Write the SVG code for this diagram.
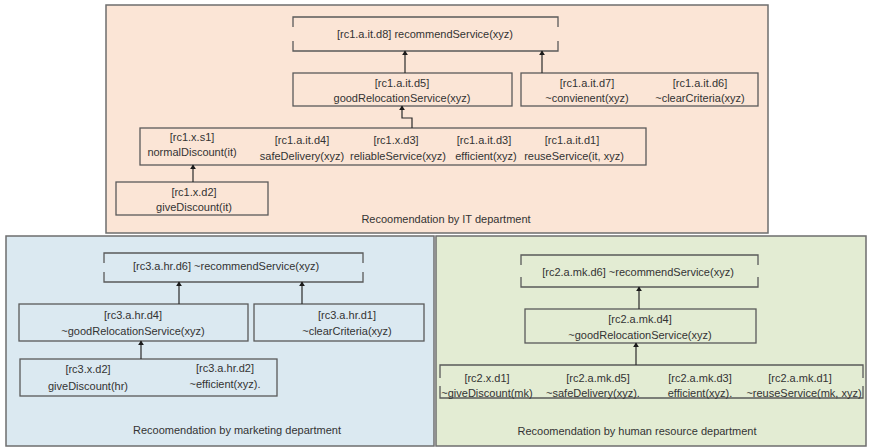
<svg xmlns="http://www.w3.org/2000/svg" width="870" height="447" viewBox="0 0 870 447">
  <defs>
    <marker id="arr" viewBox="0 0 8 10" refX="7" refY="5" markerWidth="5" markerHeight="6" orient="auto-start-reverse" markerUnits="userSpaceOnUse">
      <path d="M0,0 L8,5 L0,10 z" fill="#1a1a1a"/>
    </marker>
  </defs>
  <style>
    .panel { stroke: #6e6e6e; stroke-width: 1.5; }
    .it { fill: #fbe5d6; }
    .mkt { fill: #dbe9f1; }
    .hr { fill: #e3ecd3; }
    .box { fill: none; stroke: #5a5a5a; stroke-width: 1.3; }
    .brk { fill: none; stroke: #5a5a5a; stroke-width: 1.3; }
    .conn { fill: none; stroke: #2a2a2a; stroke-width: 1.2; }
    text { font-family: "Liberation Sans", Arial, sans-serif; font-size: 11px; fill: #333; text-anchor: middle; }
  </style>

  <!-- department panels -->
  <rect id="panel-it" class="panel it" x="106" y="5" width="662" height="228"/>
  <rect id="panel-marketing" class="panel mkt" x="6" y="236" width="428" height="210"/>
  <rect id="panel-hr" class="panel hr" x="436" y="236" width="430" height="210"/>

  <!-- IT department -->
  <g id="it-d8">
    <path class="brk" d="M293,27 V17 H558 V27 M293,41 V51 H558 V41"/>
    <text x="425" y="38">[rc1.a.it.d8] recommendService(xyz)</text>
  </g>
  <g id="it-d5">
    <rect class="box" x="293" y="73" width="219" height="33"/>
    <text x="402" y="87">[rc1.a.it.d5]</text>
    <text x="402" y="102">goodRelocationService(xyz)</text>
  </g>
  <g id="it-d7-d6">
    <rect class="box" x="521" y="73" width="237" height="33"/>
    <text x="587" y="87">[rc1.a.it.d7]</text>
    <text x="587" y="102">~convienent(xyz)</text>
    <text x="700" y="87">[rc1.a.it.d6]</text>
    <text x="700" y="102">~clearCriteria(xyz)</text>
  </g>
  <g id="it-row">
    <rect class="box" x="140" y="128" width="506" height="37"/>
    <text x="192" y="141">[rc1.x.s1]</text>
    <text x="192" y="156">normalDiscount(it)</text>
    <text x="302" y="144">[rc1.a.it.d4]</text>
    <text x="302" y="160">safeDelivery(xyz)</text>
    <text x="396" y="144">[rc1.x.d3]</text>
    <text x="398" y="160">reliableService(xyz)</text>
    <text x="484" y="144">[rc1.a.it.d3]</text>
    <text x="486" y="160">efficient(xyz)</text>
    <text x="572" y="144">[rc1.a.it.d1]</text>
    <text x="574" y="160">reuseService(it, xyz)</text>
  </g>
  <g id="it-d2">
    <rect class="box" x="116" y="182" width="152" height="33"/>
    <text x="194" y="196">[rc1.x.d2]</text>
    <text x="194" y="211">giveDiscount(it)</text>
  </g>
  <text id="it-caption" x="446" y="223">Recoomendation by IT department</text>

  <!-- marketing department -->
  <g id="mkt-d6">
    <path class="brk" d="M104,263 V253 H363 V263 M104,272 V282 H363 V272"/>
    <text x="226" y="270">[rc3.a.hr.d6] ~recommendService(xyz)</text>
  </g>
  <g id="mkt-d4">
    <rect class="box" x="19" y="304" width="229" height="37"/>
    <text x="133" y="319">[rc3.a.hr.d4]</text>
    <text x="133" y="335">~goodRelocationService(xyz)</text>
  </g>
  <g id="mkt-d1">
    <rect class="box" x="254" y="304" width="170" height="37"/>
    <text x="347" y="319">[rc3.a.hr.d1]</text>
    <text x="347" y="335">~clearCriteria(xyz)</text>
  </g>
  <g id="mkt-row">
    <rect class="box" x="20" y="359" width="257" height="37"/>
    <text x="88" y="373">[rc3.x.d2]</text>
    <text x="88" y="390">giveDiscount(hr)</text>
    <text x="225" y="372">[rc3.a.hr.d2]</text>
    <text x="225" y="388">~efficient(xyz).</text>
  </g>
  <text id="mkt-caption" x="237" y="434">Recoomendation by marketing department</text>

  <!-- human resource department -->
  <g id="hr-d6">
    <path class="brk" d="M521,265 V255 H758 V265 M521,277 V287 H758 V277"/>
    <text x="638" y="276">[rc2.a.mk.d6] ~recommendService(xyz)</text>
  </g>
  <g id="hr-d4">
    <rect class="box" x="525" y="309" width="231" height="34"/>
    <text x="640" y="323">[rc2.a.mk.d4]</text>
    <text x="640" y="339">~goodRelocationService(xyz)</text>
  </g>
  <g id="hr-row">
    <path class="brk" d="M440,378 V365 H863 V378 M440,386 V398 H863 V386"/>
    <text x="487" y="382">[rc2.x.d1]</text>
    <text x="487" y="397">~giveDiscount(mk)</text>
    <text x="598" y="382">[rc2.a.mk.d5]</text>
    <text x="593" y="397">~safeDelivery(xyz).</text>
    <text x="700" y="382">[rc2.a.mk.d3]</text>
    <text x="700" y="397">efficient(xyz).</text>
    <text x="800" y="382">[rc2.a.mk.d1]</text>
    <text x="804" y="397">~reuseService(mk, xyz)</text>
  </g>
  <text id="hr-caption" x="637" y="435">Recoomendation by human resource department</text>

  <!-- connectors -->
  <g id="connectors">
    <path class="conn" marker-end="url(#arr)" d="M405,73 V51"/>
    <path class="conn" marker-end="url(#arr)" d="M542,73 V51"/>
    <path class="conn" marker-end="url(#arr)" d="M412,128 V118 H402 V106"/>
    <path class="conn" marker-end="url(#arr)" d="M193,182 V165"/>
    <path class="conn" marker-end="url(#arr)" d="M179,304 V282"/>
    <path class="conn" marker-end="url(#arr)" d="M302,304 V282"/>
    <path class="conn" marker-end="url(#arr)" d="M141,359 V341"/>
    <path class="conn" marker-end="url(#arr)" d="M639,309 V287"/>
    <path class="conn" marker-end="url(#arr)" d="M636,365 V343"/>
  </g>
</svg>
